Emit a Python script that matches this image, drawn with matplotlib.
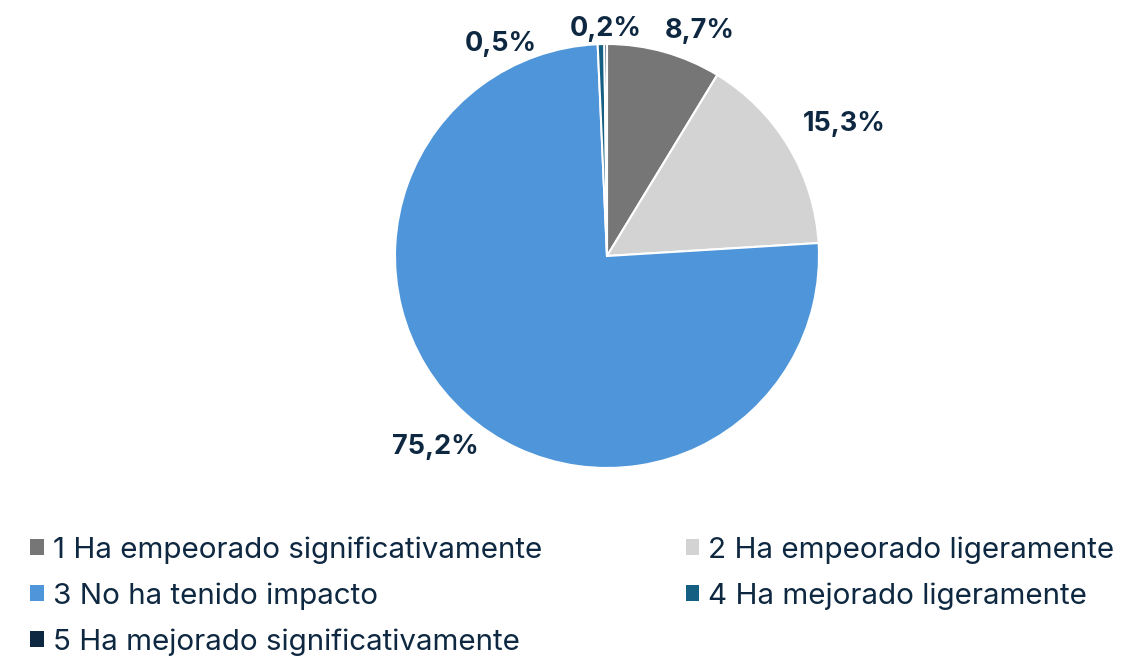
import matplotlib.pyplot as plt
import numpy as np

plt.rcParams['font.family'] = ['Inter', 'DejaVu Sans']

categorias = ['1 Ha empeorado significativamente',
              '2 Ha empeorado ligeramente',
              '3 No ha tenido impacto',
              '4 Ha mejorado ligeramente',
              '5 Ha mejorado significativamente']
valores = [8.7, 15.3, 75.2, 0.5, 0.2]
etiquetas = ['8,7%', '15,3%', '75,2%', '0,5%', '0,2%']
colores = ['#767676', '#D3D3D3', '#4E95D9', '#156082', '#0E2841']
texto = '#0E2841'

# distancia y desplazamiento angular de cada etiqueta
dist_etiq = [1.15, 1.28, 1.21, 1.12, 1.07]
desp_etiq = [-6.7, -2, 0, 25, 0]

fig = plt.figure(figsize=(11.32, 6.56), dpi=100)
ax = fig.add_axes([395/1132, 188/656, 424/1132, 424/656])

wedges, _ = ax.pie(valores, colors=colores, startangle=90, counterclock=False,
                   wedgeprops=dict(edgecolor='white', linewidth=1.5), radius=1)

for w, lab, d, s in zip(wedges, etiquetas, dist_etiq, desp_etiq):
    ang = np.deg2rad((w.theta1 + w.theta2) / 2 + s)
    ax.text(d * np.cos(ang), d * np.sin(ang), lab, ha='center', va='center',
            fontsize=19.5, fontweight='bold', color=texto)

ax.set_xlim(-1, 1)
ax.set_ylim(-1, 1)
ax.set_aspect('equal')

orden = [0, 2, 4, 1, 3]
leg = fig.legend([wedges[i] for i in orden], [categorias[i] for i in orden],
                 ncol=2, loc='upper left', bbox_to_anchor=(30/1132, 1 - 536/656),
                 frameon=False, fontsize=21.3, handlelength=0.47, handleheight=0.47,
                 handletextpad=0.3, columnspacing=4.85, labelspacing=0.63,
                 borderaxespad=0, borderpad=0)
for t in leg.get_texts():
    t.set_color(texto)
for h in leg.legend_handles:
    h.set_edgecolor('none')

fig.savefig('out.png', dpi=100)
